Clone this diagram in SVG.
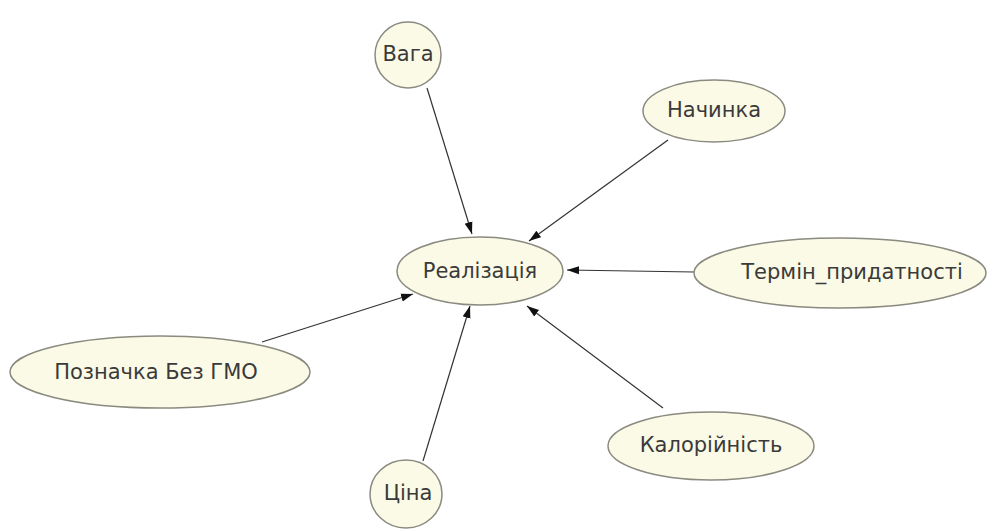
<svg xmlns="http://www.w3.org/2000/svg" width="1001" height="531" viewBox="0 0 1001 531">
  <style>
    .node ellipse { fill: #fafae6; stroke: #8a8a80; stroke-width: 1.5; }
    .node text { font-family: "DejaVu Sans", Verdana, sans-serif; font-size: 21px; fill: #3a3a3a; text-anchor: middle; dominant-baseline: central; }
    .edge { stroke: #333; stroke-width: 1.2; fill: none; marker-end: url(#arrow); }
  </style>
  <defs>
    <marker id="arrow" markerUnits="userSpaceOnUse" markerWidth="13" markerHeight="10" refX="12" refY="5" orient="auto">
      <path d="M0,1 L12,5 L0,9 Z" fill="#111"/>
    </marker>
  </defs>
  <rect width="1001" height="531" fill="#fff"/>

  <g id="connectors">
    <path class="edge" d="M427,88 L472,234"/>
    <path class="edge" d="M668,140 L529,241"/>
    <path class="edge" d="M694,272 L567,270"/>
    <path class="edge" d="M262,342 L413,294"/>
    <path class="edge" d="M423,461 L470,306"/>
    <path class="edge" d="M663,408 L527,306"/>
  </g>

  <g id="realizatsiia" class="node">
    <ellipse cx="480" cy="271" rx="83" ry="34"/>
    <text x="480" y="271">Реалізація</text>
  </g>
  <g id="vaha" class="node">
    <ellipse cx="408" cy="55" rx="33" ry="33"/>
    <text x="408" y="54">Вага</text>
  </g>
  <g id="nachynka" class="node">
    <ellipse cx="714" cy="111" rx="71" ry="31"/>
    <text x="714" y="110">Начинка</text>
  </g>
  <g id="termin" class="node">
    <ellipse cx="840" cy="273" rx="146" ry="35"/>
    <text x="852" y="272">Термін_придатності</text>
  </g>
  <g id="poznachka" class="node">
    <ellipse cx="160" cy="372" rx="150" ry="36"/>
    <text x="156" y="372">Позначка Без ГМО</text>
  </g>
  <g id="kaloriinist" class="node">
    <ellipse cx="711" cy="446" rx="103" ry="34"/>
    <text x="711" y="445">Калорійність</text>
  </g>
  <g id="tsina" class="node">
    <ellipse cx="406" cy="494" rx="36" ry="34"/>
    <text x="408" y="493">Ціна</text>
  </g>
</svg>
